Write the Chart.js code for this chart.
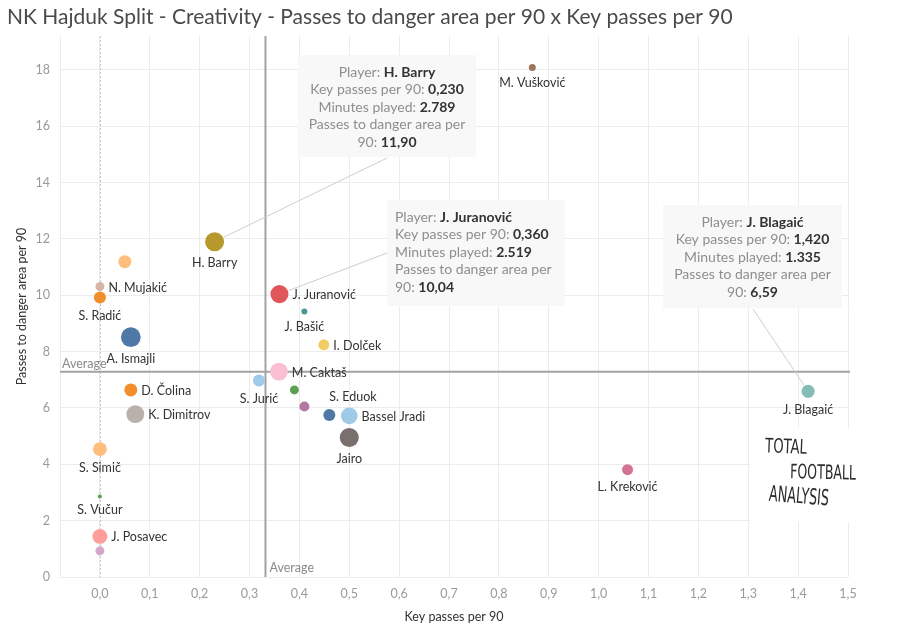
<!DOCTYPE html>
<html>
<head>
<meta charset="utf-8">
<title>NK Hajduk Split - Creativity</title>
<script src="https://cdn.jsdelivr.net/npm/chart.js@4.4.1/dist/chart.umd.min.js"></script>
<style>
	html, body { margin: 0; padding: 0; background: #fff; }
	#wrap { position: relative; width: 901px; height: 630px; }
</style>
</head>
<body>
<div id="wrap"><canvas id="creativityChart" width="901" height="630"></canvas></div>
<script>
// players (empty name = mark has no label in the view)
var players = ["M. Vušković", "H. Barry", "", "N. Mujakić", "S. Radić", "J. Juranović", "J. Bašić", "A. Ismajli", "I. Dolček", "M. Caktaš", "S. Jurić", "D. Čolina", "", "", "S. Eduok", "Bassel Jradi", "K. Dimitrov", "Jairo", "S. Simič", "L. Kreković", "S. Vučur", "J. Posavec", "", "J. Blagaić"];
var keyPasses = [0.867, 0.23, 0.05, 0, 0, 0.36, 0.41, 0.062, 0.449, 0.359, 0.319, 0.062, 0.39, 0.41, 0.46, 0.50, 0.071, 0.50, 0, 1.058, 0, 0, 0, 1.42];
var dangerPasses = [18.08, 11.90, 11.19, 10.31, 9.92, 10.04, 9.42, 8.51, 8.24, 7.29, 6.97, 6.64, 6.64, 6.05, 5.75, 5.72, 5.78, 4.95, 4.54, 3.81, 2.86, 1.44, 0.93, 6.59];
var minutesPlayed = [380, 2789, 1300, 620, 1110, 2519, 280, 3000, 930, 2450, 1110, 1300, 620, 770, 1110, 2150, 2450, 2800, 1480, 930, 125, 1700, 620, 1335];

var xTickValues = [0, 0.1, 0.2, 0.3, 0.4, 0.5, 0.6, 0.7, 0.8, 0.9, 1.0, 1.1, 1.2, 1.3, 1.4, 1.5];
var yTickValues = [0, 2, 4, 6, 8, 10, 12, 14, 16, 18];
var avgKeyPasses = 0.332;
var avgDangerPasses = 7.28;
var calloutPlayers = ["H. Barry", "J. Juranović", "J. Blagaić"];

// styles
var pointColors = ["#9d7660", "#b6992d", "#ffbe7d", "#d7b5a6", "#f28e2b", "#e15759", "#499894", "#4e79a7", "#f1ce63", "#fabfd2", "#a0cbe8", "#f28e2b", "#59a14f", "#b07aa1", "#4e79a7", "#a0cbe8", "#bab0ac", "#79706e", "#ffbe7d", "#d37295", "#59a14f", "#ff9d9a", "#d4a6c8", "#86bcb6"];
var labelPos = ["b", "b", "", "r", "b", "r", "b", "b", "r", "r", "b", "r", "", "", "tr", "r", "r", "b", "b", "b", "b", "r", "", "b"];
var calloutLayout = [
	{ box: [298, 55, 178, 102], align: "center", anchor: [387, 158] },
	{ box: [387, 200, 178, 106], align: "left", anchor: [387, 253] },
	{ box: [663, 205, 179, 103], align: "center", anchor: [753, 309] }
];
var FONT = "Lato, 'Open Sans', sans-serif";

var hajdukChart = {
	chart: null,
	init: function(){
		var points = players.map(function(p, i){
			return { x: keyPasses[i], y: dangerPasses[i], r: hajdukChart.radius(minutesPlayed[i]) };
		});

		hajdukChart.chart = new Chart(document.getElementById("creativityChart"), {
			type: "bubble",
			data: {
				datasets: [{
					data: points,
					backgroundColor: pointColors,
					borderColor: pointColors,
					borderWidth: 0,
					hoverRadius: 0
				}]
			},
			options: {
				responsive: false,
				animation: false,
				events: [],
				layout: { padding: { top: 36, right: 53, bottom: 0, left: 0 } },
				plugins: { legend: { display: false }, tooltip: { enabled: false } },
				scales: {
					x: {
						type: "linear",
						min: -0.08,
						max: 1.5,
						afterBuildTicks: function(axis){
							axis.ticks = xTickValues.map(function(v){ return { value: v }; });
						},
						afterFit: function(axis){ axis.height = 53; },
						grid: { color: "#ececec", drawTicks: false },
						border: { display: false },
						ticks: {
							padding: 9,
							color: "#9a9a9a",
							font: { family: FONT, size: 12.5 },
							maxRotation: 0,
							callback: function(v){ return v.toFixed(1).replace(".", ","); }
						}
					},
					y: {
						type: "linear",
						min: 0,
						max: 19.2,
						afterBuildTicks: function(axis){
							axis.ticks = yTickValues.map(function(v){ return { value: v }; });
						},
						afterFit: function(axis){ axis.width = 60; },
						grid: { color: "#ececec", drawTicks: false },
						border: { display: true, color: "#ececec" },
						ticks: {
							padding: 10,
							color: "#9a9a9a",
							font: { family: FONT, size: 12.5 },
							callback: function(v){ return String(v); }
						}
					}
				}
			},
			plugins: [hajdukChart.backPlugin, hajdukChart.frontPlugin]
		});
	},
	radius: function(min){
		return 0.18 * Math.sqrt(min);
	},
	fmtDec: function(v, d){
		return v.toFixed(d).replace(".", ",");
	},
	fmtThousand: function(v){
		return String(v).replace(/\B(?=(\d{3})+(?!\d))/g, ".");
	},
	backPlugin: {
		id: "backLayer",
		beforeDatasetsDraw: function(chart){
			var ctx = chart.ctx;
			var area = chart.chartArea;
			var xs = chart.scales.x, ys = chart.scales.y;

			// zero line
			var x0 = Math.round(xs.getPixelForValue(0)) + 0.5;
			ctx.save();
			ctx.strokeStyle = "#c4c4c4";
			ctx.lineWidth = 1;
			ctx.setLineDash([2, 2]);
			ctx.beginPath();
			ctx.moveTo(x0, area.top);
			ctx.lineTo(x0, area.bottom);
			ctx.stroke();
			ctx.restore();

			// logo background
			ctx.save();
			ctx.fillStyle = "#fff";
			ctx.fillRect(750, 428, 110, 94);
			ctx.restore();

			// average lines
			var ax = xs.getPixelForValue(avgKeyPasses);
			var ay = ys.getPixelForValue(avgDangerPasses);
			ctx.save();
			ctx.strokeStyle = "#a3a3a3";
			ctx.lineWidth = 2;
			ctx.beginPath();
			ctx.moveTo(ax, area.top);
			ctx.lineTo(ax, area.bottom);
			ctx.moveTo(area.left, ay);
			ctx.lineTo(area.right + 2, ay);
			ctx.stroke();
			ctx.fillStyle = "#8a8a8a";
			ctx.font = "12.5px " + FONT;
			ctx.textBaseline = "middle";
			ctx.textAlign = "left";
			ctx.fillText("Average", area.left + 2, ay - 8);
			ctx.fillText("Average", ax + 4, area.bottom - 9);
			ctx.restore();
		}
	},
	frontPlugin: {
		id: "frontLayer",
		afterDatasetsDraw: function(chart){
			var ctx = chart.ctx;
			var meta = chart.getDatasetMeta(0);

			// mark labels
			ctx.save();
			ctx.font = "12.5px " + FONT;
			ctx.fillStyle = "#333";
			ctx.textBaseline = "middle";
			players.forEach(function(name, i){
				if(!name || !labelPos[i]) return;
				var el = meta.data[i];
				var r = el.options.radius;
				if(labelPos[i] == "r"){
					ctx.textAlign = "left";
					ctx.fillText(name, el.x + r + 4, el.y + 1);
				}else if(labelPos[i] == "b"){
					ctx.textAlign = "center";
					ctx.fillText(name, el.x, el.y + r + 12);
				}else if(labelPos[i] == "tr"){
					ctx.textAlign = "left";
					ctx.fillText(name, el.x, el.y - r - 12);
				}
			});
			ctx.restore();
		},
		afterDraw: function(chart){
			var ctx = chart.ctx;
			var area = chart.chartArea;
			var meta = chart.getDatasetMeta(0);

			// title
			ctx.save();
			ctx.fillStyle = "#4a4a4a";
			ctx.font = "21px " + FONT;
			ctx.textBaseline = "middle";
			ctx.textAlign = "left";
			ctx.fillText("NK Hajduk Split - Creativity - Passes to danger area per 90 x Key passes per 90", 7, 17);

			// axis titles
			ctx.fillStyle = "#333";
			ctx.font = "12.5px " + FONT;
			ctx.textAlign = "center";
			ctx.fillText("Key passes per 90", (area.left + area.right) / 2, 617);
			ctx.translate(22, (area.top + area.bottom) / 2);
			ctx.rotate(-Math.PI / 2);
			ctx.fillText("Passes to danger area per 90", 0, 0);
			ctx.restore();

			// callouts
			calloutPlayers.forEach(function(name, k){
				var i = players.indexOf(name);
				var el = meta.data[i];
				var lay = calloutLayout[k];
				var b = lay.box;
				var dx = el.x - lay.anchor[0], dy = el.y - lay.anchor[1];
				var len = Math.sqrt(dx * dx + dy * dy);
				var r = el.options.radius + 1;

				ctx.save();
				ctx.strokeStyle = "#cdcdcd";
				ctx.lineWidth = 1;
				ctx.beginPath();
				ctx.moveTo(lay.anchor[0], lay.anchor[1]);
				ctx.lineTo(el.x - dx / len * r, el.y - dy / len * r);
				ctx.stroke();
				ctx.fillStyle = "rgba(248,248,248,0.96)";
				ctx.fillRect(b[0], b[1], b[2], b[3]);

				var lines = [
					["Player: ", name],
					["Key passes per 90: ", hajdukChart.fmtDec(keyPasses[i], 3)],
					["Minutes played: ", hajdukChart.fmtThousand(minutesPlayed[i])],
					["Passes to danger area per", ""],
					["90: ", hajdukChart.fmtDec(dangerPasses[i], 2)]
				];
				ctx.textBaseline = "middle";
				ctx.textAlign = "left";
				lines.forEach(function(ln, j){
					var y = b[1] + 17 + j * 17.6;
					ctx.font = "14px " + FONT;
					var w1 = ctx.measureText(ln[0]).width;
					ctx.font = "bold 14px " + FONT;
					var w2 = ctx.measureText(ln[1]).width;
					var x = lay.align == "center" ? b[0] + b[2] / 2 - (w1 + w2) / 2 : b[0] + 8;
					ctx.font = "14px " + FONT;
					ctx.fillStyle = "#8e8e8e";
					ctx.fillText(ln[0], x, y);
					ctx.font = "bold 14px " + FONT;
					ctx.fillStyle = "#333";
					ctx.fillText(ln[1], x + w1, y);
				});
				ctx.restore();
			});

			hajdukChart.drawLogo(ctx);
		}
	},
	drawLogo: function(ctx){
		var rows = [
			{ text: "TOTAL", x: 765, y: 447, w: 42, h: 20, rot: 0.04 },
			{ text: "FOOTBALL", x: 790, y: 473, w: 66, h: 20, rot: 0.02 },
			{ text: "ANALYSIS", x: 769, y: 495, w: 60, h: 22, rot: 0.08 }
		];
		ctx.save();
		ctx.fillStyle = "#2b2b2b";
		ctx.textBaseline = "middle";
		ctx.textAlign = "left";
		rows.forEach(function(row){
			ctx.save();
			ctx.font = row.h + "px 'DejaVu Sans Condensed', 'DejaVu Sans', sans-serif";
			var w = ctx.measureText(row.text).width;
			ctx.translate(row.x, row.y);
			ctx.rotate(row.rot);
			ctx.scale(row.w / w, 1);
			ctx.fillText(row.text, 0, 0);
			ctx.restore();
		});
		ctx.restore();
	}
};

hajdukChart.init();
</script>
</body>
</html>
